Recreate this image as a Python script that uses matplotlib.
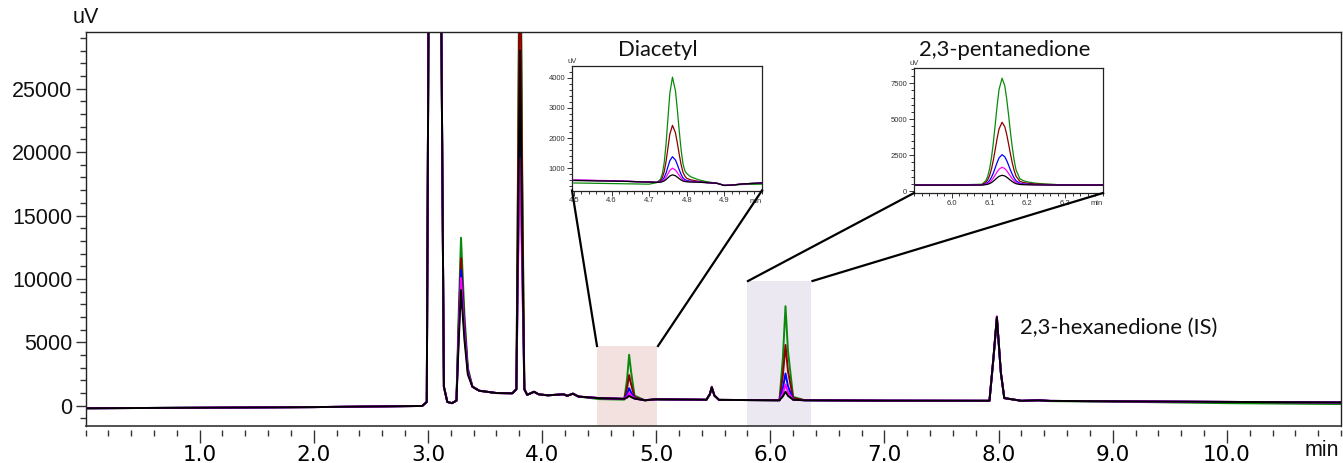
import matplotlib
matplotlib.use("Agg")
import matplotlib.pyplot as plt
from matplotlib.ticker import MultipleLocator, FixedLocator, FixedFormatter
from matplotlib.lines import Line2D
from matplotlib.patches import Rectangle

######################### DATA ################################
series_colors = ["#0a8a0a", "#8b0000", "#0000ff", "#ff00ff", "#000000"]

# main chromatogram, retention time (min)
t_main = [0.00, 1.00, 2.00, 2.95, 2.99, 3.01, 3.11, 3.14, 3.17, 3.21, 3.25, 3.27, 3.29,
          3.32, 3.35, 3.39, 3.45, 3.60, 3.74, 3.775, 3.79, 3.807, 3.825, 3.845, 3.87,
          3.93, 3.97, 4.05, 4.19, 4.22, 4.27, 4.32, 4.50, 4.72, 4.745, 4.763, 4.78, 4.81,
          4.90, 5.00, 5.44, 5.47, 5.487, 5.51, 5.55, 6.08, 6.11, 6.133, 6.155, 6.20, 6.30,
          7.00, 7.92, 7.955, 7.985, 8.02, 8.05, 8.20, 8.35, 8.45, 9.00, 10.0, 11.0]

green_main = [-200, -160, -110, -20, 300, 40000, 40000, 1500, 300, 200, 400, 7400, 13250,
              7200, 3000, 1500, 1180, 1000, 980, 1300, 20000, 45000, 20000, 1300, 860,
              1100, 900, 820, 900, 780, 950, 720, 520, 480, 2100, 4020, 2700, 800,
              430, 470, 470, 880, 1400, 800, 460, 430, 3770, 7850, 4290, 700, 430,
              390, 380, 3700, 6900, 2600, 600, 380, 410, 360, 320, 200, 130]
red_main = [-200, -160, -110, -20, 300, 40000, 40000, 1500, 300, 200, 400, 6500, 11630,
            6500, 2800, 1500, 1180, 1000, 980, 1300, 18000, 40000, 18000, 1300, 860,
            1100, 900, 820, 900, 780, 950, 720, 600, 540, 1400, 2420, 1700, 680,
            430, 510, 470, 920, 1500, 820, 460, 430, 2390, 4790, 2700, 600, 440,
            400, 390, 3750, 6950, 2600, 600, 390, 430, 380, 350, 300, 260]
blue_main = [-200, -160, -110, -20, 300, 40000, 40000, 1500, 300, 200, 400, 6000, 10700,
             6000, 2700, 1500, 1180, 1000, 980, 1300, 12000, 24000, 12000, 1300, 860,
             1100, 900, 820, 900, 780, 950, 720, 600, 540, 900, 1380, 1050, 580,
             430, 510, 470, 900, 1450, 800, 460, 430, 1380, 2540, 1530, 480, 430,
             400, 390, 3750, 6950, 2600, 600, 390, 430, 380, 350, 300, 260]
magenta_main = [-200, -160, -110, -20, 300, 40000, 40000, 1500, 300, 200, 400, 5700, 10070,
                5700, 2600, 1500, 1180, 1000, 980, 1300, 11000, 19500, 11000, 1300, 860,
                1100, 900, 820, 900, 780, 950, 720, 600, 540, 720, 1000, 820, 570,
                430, 510, 470, 900, 1450, 800, 460, 430, 990, 1666, 1070, 470, 430,
                400, 390, 3800, 7050, 2600, 600, 390, 430, 380, 350, 300, 260]
black_main = [-200, -160, -110, -20, 300, 40000, 40000, 1500, 300, 200, 400, 5100, 9130,
              5200, 2450, 1500, 1180, 1000, 980, 1300, 14000, 28000, 14000, 1300, 860,
              1100, 900, 820, 900, 780, 950, 720, 600, 540, 640, 780, 680, 560,
              430, 510, 470, 900, 1450, 800, 460, 430, 740, 1110, 780, 470, 430,
              400, 390, 3800, 7000, 2600, 600, 390, 430, 380, 350, 300, 260]

# inset 1 : diacetyl
t_dia = [4.50, 4.60, 4.70, 4.72, 4.73, 4.735, 4.74, 4.745, 4.75, 4.755, 4.762, 4.77, 4.775,
         4.78, 4.785, 4.79, 4.795, 4.80, 4.81, 4.83, 4.85, 4.88, 4.90, 4.92, 4.95, 5.00]
green_dia = [510, 490, 470, 520, 628, 806, 1179, 1807, 2648, 3476, 4020, 3566, 2938,
             2240, 1612, 1141, 914, 820, 720, 620, 560, 500, 430, 440, 460, 470]
red_dia = [600, 580, 540, 530, 583, 679, 882, 1222, 1677, 2125, 2420, 2174, 1834,
           1456, 1116, 861, 738, 662, 615, 568, 530, 500, 430, 440, 480, 510]
blue_dia = [600, 580, 540, 530, 554, 597, 688, 841, 1046, 1247, 1380, 1270, 1117,
            947, 794, 679, 624, 590, 568, 547, 525, 500, 430, 440, 480, 510]
magenta_dia = [610, 585, 540, 530, 543, 567, 617, 702, 815, 927, 1000, 939, 854,
               760, 676, 612, 582, 563, 551, 539, 522, 500, 430, 440, 480, 510]
black_dia = [590, 575, 540, 530, 537, 550, 577, 622, 682, 741, 780, 748, 703,
             653, 608, 574, 558, 548, 541, 535, 521, 500, 425, 440, 480, 510]

# inset 2 : 2,3-pentanedione
t_pen = [5.90, 6.00, 6.08, 6.09, 6.095, 6.10, 6.105, 6.11, 6.115, 6.12, 6.125, 6.133,
         6.14, 6.145, 6.15, 6.155, 6.16, 6.165, 6.17, 6.18, 6.19, 6.20, 6.22, 6.25,
         6.28, 6.35, 6.40]
green_pen = [430, 430, 489, 734, 1038, 1558, 2337, 3398, 4667, 5965, 7071, 7850,
             7345, 6470, 5342, 4140, 3049, 2144, 1476, 875, 727, 653, 564, 504,
             460, 440, 440]
red_pen = [430, 430, 465, 609, 788, 1093, 1551, 2174, 2920, 3683, 4332, 4790,
           4494, 3979, 3316, 2610, 1969, 1437, 1045, 692, 604, 561, 508, 474,
           460, 460, 460]
blue_pen = [430, 430, 447, 517, 603, 751, 972, 1274, 1635, 2004, 2318, 2540,
            2397, 2148, 1827, 1485, 1175, 917, 728, 557, 514, 493, 468, 451,
            438, 430, 430]
magenta_pen = [430, 430, 440, 481, 531, 618, 748, 924, 1136, 1352, 1536, 1666,
               1582, 1436, 1248, 1048, 866, 716, 604, 504, 479, 467, 452, 442,
               435, 430, 430]
black_pen = [430, 430, 435, 458, 486, 533, 605, 702, 818, 937, 1039, 1110,
             1064, 984, 880, 770, 670, 587, 526, 471, 457, 450, 442, 437,
             433, 430, 430]

main_series = [green_main, red_main, blue_main, magenta_main, black_main]
dia_series = [green_dia, red_dia, blue_dia, magenta_dia, black_dia]
pen_series = [green_pen, red_pen, blue_pen, magenta_pen, black_pen]

######################### FIGURE ################################
W, H = 1343, 463
fig = plt.figure(figsize=(W / 100, H / 100), dpi=100)

def fx(px):
    return px / W

def fy(py):
    return 1 - py / H

tick_col = "#333333"
label_font = "Liberation Sans"
name_font = "Lato"

# main axes
ax = fig.add_axes([fx(85.5), fy(426), fx(1341) - fx(85.5), fy(32.3) - fy(426)])
ax.set_xlim(0, 11.0)
ax.set_ylim(-1600, 29450)

ax.add_patch(Rectangle((4.48, -1600), 0.53, 4710 + 1600, facecolor="#f3e1e0",
                       edgecolor="none", zorder=0))
ax.add_patch(Rectangle((5.80, -1600), 0.56, 9840 + 1600, facecolor="#ebe8f1",
                       edgecolor="none", zorder=0))

for vals, c in zip(main_series, series_colors):
    ax.plot(t_main, vals, color=c, lw=1.4, zorder=2)

ax.xaxis.set_major_locator(FixedLocator([1, 2, 3, 4, 5, 6, 7, 8, 9, 10]))
ax.xaxis.set_major_formatter(FixedFormatter(["1.0", "2.0", "3.0", "4.0", "5.0",
                                             "6.0", "7.0", "8.0", "9.0", "10.0"]))
ax.xaxis.set_minor_locator(MultipleLocator(0.2))
ax.yaxis.set_major_locator(MultipleLocator(5000))
ax.yaxis.set_minor_locator(MultipleLocator(1000))
ax.tick_params(axis="x", which="major", length=9, width=1, color=tick_col, pad=1.5,
               labelsize=15.5)
ax.tick_params(axis="x", which="minor", length=4.5, width=1, color=tick_col)
ax.tick_params(axis="y", which="major", length=7, width=1, color=tick_col, pad=2.5,
               labelsize=15.5)
ax.tick_params(axis="y", which="minor", length=4, width=1, color=tick_col)
for lab in ax.get_xticklabels() + ax.get_yticklabels():
    lab.set_fontfamily(label_font)
    lab.set_color("#111111")
ax.spines["bottom"].set_position(("outward", 3))
ax.spines["bottom"].set_visible(False)
ax.plot([0, 1], [0, 0], transform=ax.transAxes, color="#333333", lw=1.2,
        clip_on=False, zorder=5)
for s in ["left", "top", "right"]:
    ax.spines[s].set_linewidth(1.0)
    ax.spines[s].set_color("#222222")

ax.text(0.0, 1.012, "uV", transform=ax.transAxes, ha="center", va="bottom",
        fontsize=15.5, family=label_font, color="#111111")
ax.text(0.9985, -0.0635, "min", transform=ax.transAxes, ha="right", va="center",
        fontsize=15.5, family=label_font, color="#111111")
ax.text(8.19, 6150, "2,3-hexanedione (IS)", ha="left", va="center",
        fontsize=15.8, family=name_font, color="#111111")


def make_inset(rect, xlim, ylim, times, series, xmajor, ymajor, yminor):
    ia = fig.add_axes(rect)
    ia.set_xlim(*xlim)
    ia.set_ylim(*ylim)
    for vals, c in zip(series, series_colors):
        ia.plot(times, vals, color=c, lw=0.9)
    ia.xaxis.set_major_locator(FixedLocator(xmajor))
    ia.xaxis.set_major_formatter(FixedFormatter(["%.1f" % v for v in xmajor]))
    ia.xaxis.set_minor_locator(MultipleLocator(0.02))
    ia.yaxis.set_major_locator(FixedLocator(ymajor))
    ia.yaxis.set_major_formatter(FixedFormatter(["%d" % v for v in ymajor]))
    ia.yaxis.set_minor_locator(MultipleLocator(yminor))
    ia.tick_params(which="major", length=3.5, width=0.7, color=tick_col, pad=1.5,
                   labelsize=5.5, labelcolor="#333333")
    ia.tick_params(which="minor", length=2.2, width=0.7, color=tick_col)
    for lab in ia.get_xticklabels() + ia.get_yticklabels():
        lab.set_fontfamily(label_font)
    for s in ia.spines.values():
        s.set_linewidth(0.9)
        s.set_color("#222222")
    ia.text(0.0, 1.01, "uV", transform=ia.transAxes, ha="center", va="bottom",
            fontsize=5.5, family=label_font, color="#333333")
    ia.text(1.0, -0.085, "min", transform=ia.transAxes, ha="right", va="center",
            fontsize=5.5, family=label_font, color="#333333")
    return ia


# inset 1 : diacetyl
in1 = [572, 66, 762, 190.5]
make_inset([fx(in1[0]), fy(in1[3]), fx(in1[2]) - fx(in1[0]), fy(in1[1]) - fy(in1[3])],
           (4.495, 5.0), (260, 4390), t_dia, dia_series,
           [4.5, 4.6, 4.7, 4.8, 4.9], [1000, 2000, 3000, 4000], 200)
fig.text(fx(658), fy(50), "Diacetyl", ha="center", va="center", fontsize=15.8,
         family=name_font, color="#111111")

# inset 2 : 2,3-pentanedione
in2 = [914, 68.3, 1103, 193]
make_inset([fx(in2[0]), fy(in2[3]), fx(in2[2]) - fx(in2[0]), fy(in2[1]) - fy(in2[3])],
           (5.9, 6.4), (-120, 8540), t_pen, pen_series,
           [6.0, 6.1, 6.2, 6.3], [0, 2500, 5000, 7500], 500)
fig.text(fx(1005), fy(50), "2,3-pentanedione", ha="center", va="center", fontsize=15.8,
         family=name_font, color="#111111")

# connector lines (pixel positions)
for (x0, y0), (x1, y1) in [((572, 190.5), (597, 346)), ((762, 190.5), (658, 346)),
                           ((914, 193), (748, 281)), ((1103, 193), (812.5, 281))]:
    fig.add_artist(Line2D([fx(x0), fx(x1)], [fy(y0), fy(y1)], color="black", lw=1.6))

fig.savefig("out.png", dpi=100)
